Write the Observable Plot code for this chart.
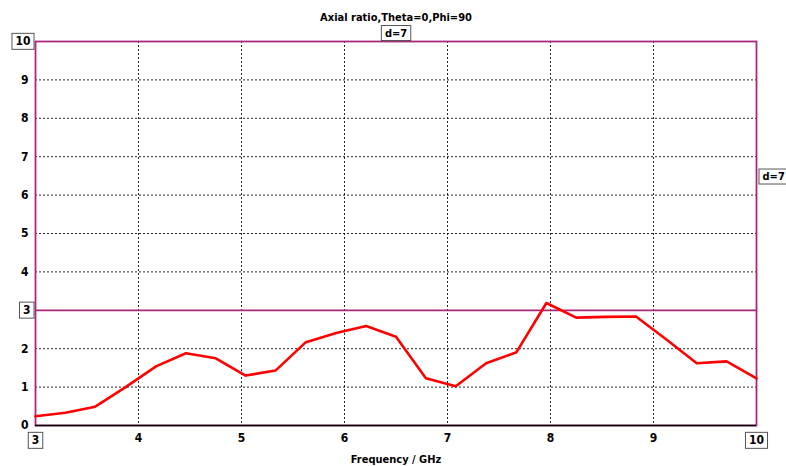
<!DOCTYPE html>
<html>
<head>
<meta charset="utf-8">
<script src="https://cdn.jsdelivr.net/npm/d3@7"></script>
<script src="https://cdn.jsdelivr.net/npm/@observablehq/plot@0.6"></script>
<style>
  body { margin: 0; background: #fff; }
</style>
</head>
<body>
<div id="chart"></div>
<script>
// Axial ratio vs frequency (Theta=0, Phi=90), curve d=7
const freqGHz = [3.0, 3.29, 3.58, 3.875, 4.17, 4.46, 4.75, 5.04, 5.33, 5.625, 5.92, 6.21, 6.5,
                 6.79, 7.08, 7.375, 7.67, 7.96, 8.25, 8.54, 8.83, 9.125, 9.42, 9.71, 10.0];
const axialRatio = [0.24, 0.33, 0.49, 1.0, 1.54, 1.88, 1.75, 1.30, 1.43, 2.17, 2.41, 2.59, 2.31,
                    1.23, 1.02, 1.62, 1.91, 3.19, 2.81, 2.83, 2.84, 2.24, 1.62, 1.67, 1.23];

const xTicks = [4, 5, 6, 7, 8, 9];
const yTicks = [0, 1, 2, 4, 5, 6, 7, 8, 9];
const yGrid = [1, 2, 4, 5, 6, 7, 8, 9];
const xEnds = [3, 10];
const yTop = [10];
const markerLevel = [3];
const titleText = ["Axial ratio,Theta=0,Phi=90"];
const xLabel = ["Frequency / GHz"];
const curveLabel = ["d=7"];

const data = freqGHz.map((f, i) => ({ f, ar: axialRatio[i] }));
const plum = "#a8287e";
const font = "'DejaVu Sans Condensed', 'DejaVu Sans', sans-serif";
const dotted = { stroke: "#000", strokeOpacity: 0.85, strokeDasharray: "2,2", strokeWidth: 1 };
const boxed = { ariaDescription: "boxed", fill: "#000" };

const chart = Plot.plot({
  width: 786,
  height: 466,
  marginLeft: 35,
  marginRight: 30,
  marginTop: 41,
  marginBottom: 41,
  style: { fontFamily: font, fontSize: "12px", fontWeight: "bold", color: "#000", background: "#fff", overflow: "visible" },
  x: { domain: [3, 10] },
  y: { domain: [0, 10] },
  marks: [
    Plot.ruleX(xTicks, dotted),
    Plot.ruleY(yGrid, dotted),
    Plot.ruleY(markerLevel, { stroke: plum, strokeWidth: 1.8 }),
    Plot.frame({ stroke: plum, strokeWidth: 1.8 }),
    Plot.ruleY([0], { stroke: "#000", strokeWidth: 1.5 }),
    Plot.line(data, { x: "f", y: "ar", stroke: "#ff0000", strokeWidth: 2.6 }),
    Plot.axisX(xTicks, { tickSize: 0, tickPadding: 8, label: null }),
    Plot.axisY(yTicks, { tickSize: 0, tickPadding: 7, label: null }),
    // boxed end labels
    Plot.text(xEnds, { ...boxed, x: d => d, frameAnchor: "bottom", dy: 15, lineAnchor: "middle" }),
    Plot.text(yTop, { ...boxed, y: d => d, frameAnchor: "left", dx: -5, textAnchor: "end", lineAnchor: "middle" }),
    Plot.text(markerLevel, { ...boxed, y: d => d, frameAnchor: "left", dx: -5, textAnchor: "end", lineAnchor: "middle" }),
    // curve labels
    Plot.text(curveLabel, { ...boxed, fontSize: 11, frameAnchor: "top", dy: -8.5, lineAnchor: "middle" }),
    Plot.text(curveLabel, { ...boxed, fontSize: 11, frameAnchor: "right", dx: 6, dy: -57, textAnchor: "start", lineAnchor: "middle" }),
    // title and axis label
    Plot.text(titleText, { fontSize: 11, frameAnchor: "top", dy: -24, lineAnchor: "middle", fill: "#000" }),
    Plot.text(xLabel, { fontSize: 11, frameAnchor: "bottom", dy: 34, lineAnchor: "middle", fill: "#000" })
  ]
});

document.getElementById("chart").append(chart);

// draw a framed box behind each boxed label
chart.querySelectorAll('g[aria-description="boxed"] text').forEach(t => {
  const b = t.getBBox();
  const r = document.createElementNS("http://www.w3.org/2000/svg", "rect");
  r.setAttribute("x", b.x - 3.5);
  r.setAttribute("y", b.y - 1);
  r.setAttribute("width", b.width + 7);
  r.setAttribute("height", b.height + 2);
  r.setAttribute("fill", "#fff");
  r.setAttribute("stroke", "#555");
  r.setAttribute("stroke-width", 1);
  const tr = t.getAttribute("transform");
  if (tr) r.setAttribute("transform", tr);
  t.parentNode.insertBefore(r, t);
});
</script>
</body>
</html>
